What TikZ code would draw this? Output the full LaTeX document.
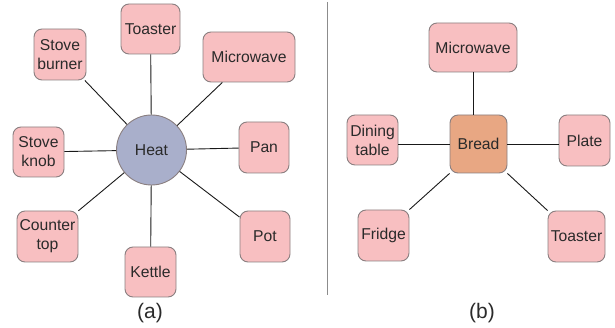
\documentclass[tikz,border=0pt]{standalone}
\usepackage{fontspec}
\setmainfont{Liberation Sans}
\definecolor{boxfill}{HTML}{F8BFC1}
\definecolor{boxline}{HTML}{8A7F80}
\definecolor{heatfill}{HTML}{A9AFCB}
\definecolor{breadfill}{HTML}{E8A783}
\definecolor{txt}{HTML}{2A2A2A}
\begin{document}
\begin{tikzpicture}[x=1pt,y=-1pt,
  every node/.style={font=\fontsize{15.7}{19}\selectfont, text=txt, inner sep=0pt, align=center},
  item/.style={draw=boxline, fill=boxfill, line width=0.9pt, rounded corners=8pt},
  hub/.style={draw=boxline, line width=0.9pt},
  link/.style={draw=black!90, line width=0.9pt},
  caption/.style={font=\fontsize{21}{24}\selectfont}]
\useasboundingbox (0,0) rectangle (615,328);

% (a) objects that give heat
\node[hub, circle, fill=heatfill, minimum size=70pt] (heat) at (151.5,150) {Heat};
\node[item, minimum width=59pt, minimum height=50pt] (toastA) at (150.5,29) {Toaster};
\node[item, minimum width=52pt, minimum height=51pt] (burner) at (60,54.5) {Stove\\burner};
\node[item, minimum width=92pt, minimum height=50pt] (microA) at (249,57) {Microwave};
\node[item, minimum width=51pt, minimum height=50pt] (knob) at (38.5,152) {Stove\\knob};
\node[item, minimum width=50pt, minimum height=51pt] (pan) at (264,147.5) {Pan};
\node[item, minimum width=61pt, minimum height=51pt] (counter) at (47.5,236.5) {Counter\\top};
\node[item, minimum width=50pt, minimum height=51pt] (pot) at (265,236.5) {Pot};
\node[item, minimum width=51pt, minimum height=50pt] (kettle) at (150.5,272) {Kettle};

\foreach \n in {toastA,burner,microA,knob,pan,counter,pot,kettle}
  \draw[link] (heat) -- (\n);

\node[caption] (capA) at (150,313) {(a)};

% divider
\draw[draw=black!45, line width=0.9pt] (327,2) -- (327,295);

% (b) objects related to bread
\node[hub, fill=breadfill, rounded corners=8pt, minimum width=57pt, minimum height=58pt] (bread) at (478.5,144) {Bread};
\node[item, minimum width=88pt, minimum height=49pt] (microB) at (473,47.5) {Microwave};
\node[item, minimum width=51pt, minimum height=50pt] (dining) at (372.5,140) {Dining\\table};
\node[item, minimum width=51pt, minimum height=51pt] (plate) at (584.5,140.5) {Plate};
\node[item, minimum width=51pt, minimum height=51pt] (fridge) at (383.5,235.5) {Fridge};
\node[item, minimum width=57pt, minimum height=51pt] (toastB) at (576.5,236.5) {Toaster};

\draw[link] (bread.north -| microB) -- (microB);
\draw[link] (bread) -- (dining.east |- bread);
\draw[link] (bread) -- (plate.west |- bread);
\draw[link] (bread.south west) -- (fridge.north east);
\draw[link] (bread.south east) -- (toastB.north west);

\node[caption] (capB) at (482,313) {(b)};
\end{tikzpicture}
\end{document}
